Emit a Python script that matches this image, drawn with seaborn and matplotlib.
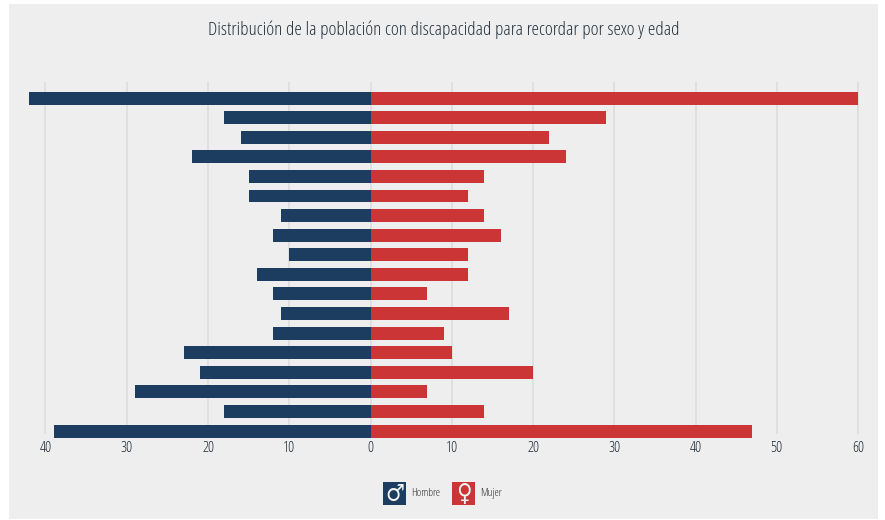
import matplotlib
matplotlib.use("Agg")
import matplotlib.pyplot as plt
from matplotlib.patches import Rectangle
import seaborn as sns
import pandas as pd

# no age labels are shown in the chart, so the groups are just numbered
grupos = [str(i) for i in range(1, 19)]
hombre = [42, 18, 16, 22, 15, 15, 11, 12, 10, 14, 12, 11, 12, 23, 21, 29, 18, 39]
mujer = [60, 29, 22, 24, 14, 12, 14, 16, 12, 12, 7, 17, 9, 10, 20, 7, 14, 47]
ticks = [-40, -30, -20, -10, 0, 10, 20, 30, 40, 50, 60]

AZUL = "#1c3d5f"
ROJO = "#cb3535"
FONDO = "#eeeeee"
W, H = 885, 520

sns.set_theme(style="white")
plt.rcParams["font.family"] = ["Open Sans", "DejaVu Sans"]
plt.rcParams["font.stretch"] = "condensed"

df = pd.DataFrame({
    "grupo": grupos * 2,
    "valor": [-v for v in hombre] + mujer,
    "sexo": ["Hombre"] * len(hombre) + ["Mujer"] * len(mujer),
})

fig = plt.figure(figsize=(W / 100, H / 100), dpi=100, facecolor="white")
fig.add_artist(Rectangle((9 / W, 1 / H), 869 / W, 515 / H, transform=fig.transFigure,
                         facecolor=FONDO, edgecolor="none", zorder=-5))

ax = fig.add_axes([29 / W, (H - 434) / H, 830 / W, 352 / H])
ax.set_facecolor("none")
sns.barplot(data=df, x="valor", y="grupo", hue="sexo", order=grupos, orient="y",
            palette={"Hombre": AZUL, "Mujer": ROJO}, dodge=False, width=0.66,
            saturation=1, linewidth=0, legend=False, ax=ax, zorder=3)
for barra in ax.patches:
    barra.set_clip_on(False)

ax.set_xlim(-42.03, 60.12)
ax.set_ylim(17.15, -0.82)
ax.set_xticks(ticks)
ax.set_xticklabels([str(abs(t)) for t in ticks], fontsize=11, color="#1f2a36")
ax.set_yticks([])
ax.set_xlabel("")
ax.set_ylabel("")
ax.tick_params(axis="x", length=0, pad=5)
ax.grid(axis="x", color="#dcdcdc", lw=1.2, zorder=0)
ax.set_axisbelow(True)
sns.despine(ax=ax, left=True, bottom=True)

fig.text(443.5 / W, (H - 29.5) / H, "Distribución de la población con discapacidad para recordar por sexo y edad",
         ha="center", va="center", fontsize=13.8, color="#26323e")

# legend built by hand: coloured squares with the sex symbol
for x0, color, simbolo, nombre in [(383, AZUL, "♂", "Hombre"), (452, ROJO, "♀", "Mujer")]:
    fig.add_artist(Rectangle((x0 / W, (H - 505) / H), 23 / W, 23 / H, transform=fig.transFigure,
                             facecolor=color, edgecolor="none"))
    fig.text((x0 + 11.5) / W, (H - 493.5) / H, simbolo, ha="center", va="center",
             fontsize=17, color="#f2f2f2", family="DejaVu Sans", fontweight="bold")
    fig.text((x0 + 28) / W, (H - 493.5) / H, nombre, ha="left", va="center",
             fontsize=8, color="#2e2e2e")

fig.savefig("out.png", dpi=100)
